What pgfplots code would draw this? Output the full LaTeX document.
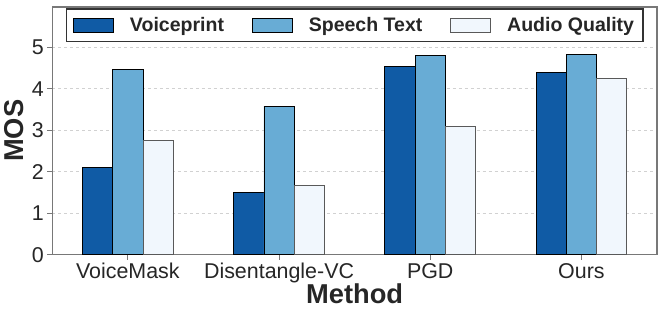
\documentclass[border=0pt]{standalone}
\usepackage{fontspec}
\setmainfont{Liberation Sans}
\usepackage{pgfplots}
\pgfplotsset{compat=1.18}
\definecolor{cA}{RGB}{16,91,165}
\definecolor{cB}{RGB}{104,172,213}
\definecolor{cC}{RGB}{241,247,253}
\definecolor{txt}{RGB}{38,38,38}
\definecolor{frame}{RGB}{120,120,120}
\begin{document}
\begin{tikzpicture}
\useasboundingbox (-52.3bp,-61.3bp) rectangle (611.7bp,254.7bp);
\begin{axis}[
  at={(0,0)}, anchor=south west,
  scale only axis, width=604.7bp, height=247.7bp,
  xmin=-0.5, xmax=3.5, ymin=0, ymax=5.97,
  ybar, bar width=0.2,
  xtick={0,1,2,3},
  xticklabels={VoiceMask,Disentangle-VC,PGD,Ours},
  ytick={0,1,2,3,4,5},
  /pgf/number format/assume math mode=true,
  tick label style={font=\fontsize{21.5}{25}\selectfont, text=txt},
  xlabel={\textbf{Method}}, ylabel={\textbf{MOS}},
  label style={font=\fontsize{27.4}{31}\selectfont, text=txt},
  xlabel style={yshift=6bp},
  ylabel style={yshift=1bp},
  axis line style={frame, line width=1.1pt},
  tick style={frame, line width=1pt},
  major tick length=5bp,
  tick align=outside,
  xtick pos=bottom, ytick pos=left,
  ymajorgrids, grid style={dashed, black!18, line width=0.6pt},
  legend style={at={(0.5,0.994)}, anchor=north, legend columns=3,
    draw=black!80, line width=1.2pt, fill=white,
    font=\bfseries\fontsize{19.6}{22}\selectfont, text=txt,
    inner xsep=7bp, inner ysep=6.5bp,
    /tikz/every odd column/.append style={column sep=14bp},
    /tikz/every even column/.append style={column sep=26bp}},
  legend image code/.code={\draw[#1, line width=0.8pt] (0bp,-7bp) rectangle (40bp,7bp);},
  legend cell align=left,
]
\addplot[fill=cA, draw=black, line width=0.8pt, bar shift=-0.2] coordinates {(0,2.11) (1,1.49) (2,4.53) (3,4.39)};
\addplot[fill=cB, draw=black, line width=0.8pt, bar shift=0] coordinates {(0,4.47) (1,3.58) (2,4.80) (3,4.82)};
\addplot[fill=cC, draw=black!65, line width=0.8pt, bar shift=0.2] coordinates {(0,2.76) (1,1.66) (2,3.10) (3,4.24)};
\legend{Voiceprint,Speech Text,Audio Quality}
\end{axis}
\end{tikzpicture}
\end{document}
